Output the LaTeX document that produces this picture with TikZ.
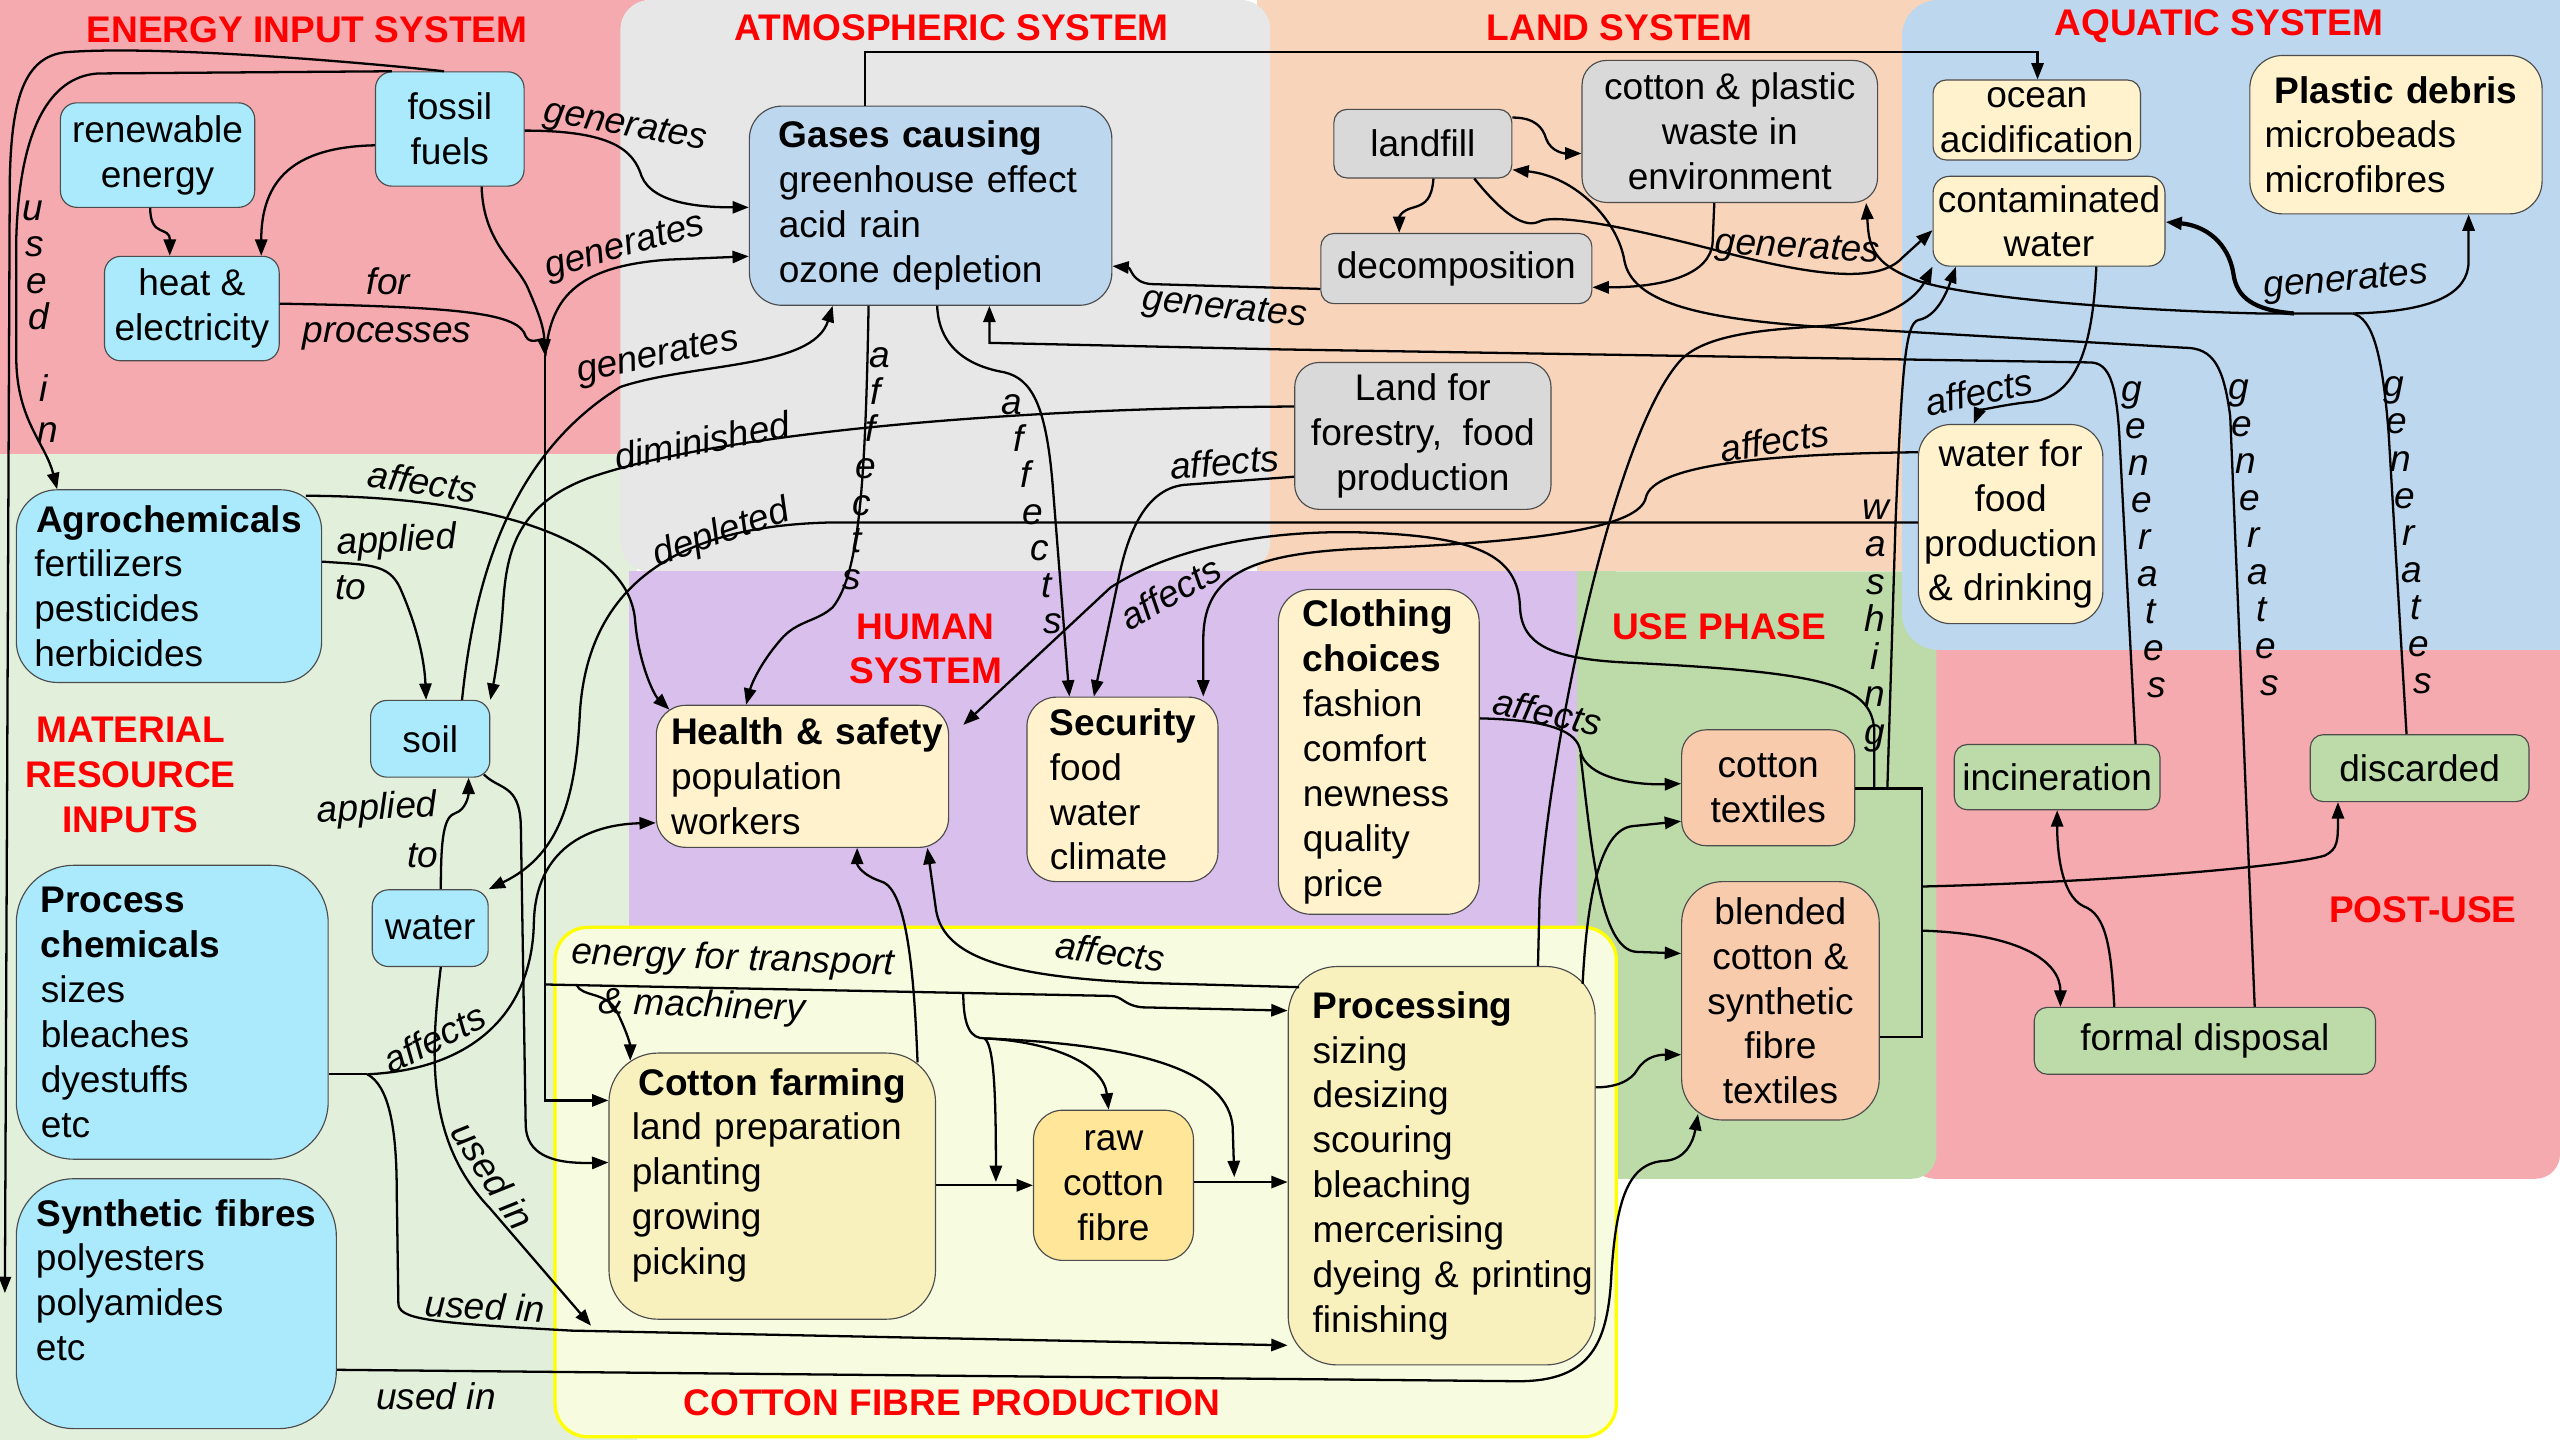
\documentclass[tikz,border=0pt]{standalone}
\usepackage{fontspec}
\setmainfont{Liberation Sans}
\usetikzlibrary{arrows.meta,calc}

% region backgrounds
\definecolor{regEnergy}{RGB}{244,170,174}
\definecolor{regAtmo}{RGB}{231,231,231}
\definecolor{regLand}{RGB}{248,212,186}
\definecolor{regAqua}{RGB}{189,215,238}
\definecolor{regMat}{RGB}{226,239,218}
\definecolor{regHuman}{RGB}{217,192,236}
\definecolor{regUse}{RGB}{189,219,168}
\definecolor{regCotton}{RGB}{247,252,224}
\definecolor{cottonEdge}{RGB}{255,255,0}
% box fills
\definecolor{cyanB}{RGB}{170,234,252}
\definecolor{grayB}{RGB}{217,217,217}
\definecolor{creamB}{RGB}{255,242,204}
\definecolor{khakiB}{RGB}{248,241,190}
\definecolor{rawB}{RGB}{255,230,153}
\definecolor{peachB}{RGB}{248,203,173}
\definecolor{greenB}{RGB}{189,219,168}
\definecolor{titleRed}{RGB}{255,0,0}

% stacked upright letters along a line
\newcommand\vletters[7]{%
  \foreach \ch [count=\k from 0] in {#7}{%
    \pgfmathsetmacro\lx{#2+(#4-#2)*\k/#6}%
    \pgfmathsetmacro\ly{#3+(#5-#3)*\k/#6+7}%
    \node[lbl,anchor=base] (#1\k) at (\lx,\ly) {\ch};
  }}

\begin{document}
\begin{tikzpicture}[x=1pt,y=-1pt,
  every node/.style={font=\fontsize{22.7}{27.5}\selectfont},
  box/.style={draw=black!70, line width=0.7pt, inner sep=0pt, rounded corners=#1},
  box/.default=10,
  cbox/.style={box=#1, align=center},
  cbox/.default=10,
  title/.style={text=titleRed, font=\fontsize{22.7}{27.5}\selectfont\bfseries, align=center, inner sep=0pt},
  lbl/.style={font=\fontsize{22.7}{27.5}\selectfont\itshape, inner sep=0pt},
  conn/.style={draw=black, line width=1.4pt},
  heavy/.style={draw=black, line width=2.6pt},
  >={Triangle[length=10pt,width=7.5pt]}]

\useasboundingbox (0,0) rectangle (1568,882);

% ---------- system regions ----------
\fill[regEnergy] (0,0) rectangle (395,290);
\fill[regMat] (0,278) rectangle (390,882);
\fill[regLand] (770,0) rectangle (1190,350);
\fill[regEnergy, rounded corners=15] (1170,380) rectangle (1568,722);
\fill[regUse, rounded corners=15] (966,350) rectangle (1186,722);
\fill[regUse] (966,350) rectangle (990,372);
\fill[regAtmo, rounded corners=18] (380,0) rectangle (778,350);
\fill[regAqua, rounded corners=22] (1165,0) rectangle (1600,398);
\fill[regHuman] (385,350) rectangle (966,569);
\filldraw[fill=regCotton, draw=cottonEdge, line width=2pt, rounded corners=20] (340,568) rectangle (990,880);

% ---------- titles ----------
\node[title] (tEnergy) at (188,18) {ENERGY INPUT SYSTEM};
\node[title] (tAtmo) at (583,17) {ATMOSPHERIC SYSTEM};
\node[title] (tLand) at (992,17) {LAND SYSTEM};
\node[title] (tAqua) at (1359,16) {AQUATIC SYSTEM};
\node[title] (tHuman) at (567,397.5) {HUMAN\\SYSTEM};
\node[title] (tMat) at (80,474.5) {MATERIAL\\RESOURCE\\INPUTS};
\node[title] (tUse) at (1053,384) {USE PHASE};
\node[title] (tPost) at (1484,557) {POST-USE};
\node[title] (tCotton) at (583,859) {COTTON FIBRE PRODUCTION};

% ---------- boxes ----------
% energy input
\node[cbox, fill=cyanB, minimum width=91pt, minimum height=70pt] (fossil) at (275.5,79) {fossil\\fuels};
\node[cbox, fill=cyanB, minimum width=119pt, minimum height=64pt] (renew) at (96.5,95) {renewable\\energy};
\node[cbox, fill=cyanB, minimum width=107pt, minimum height=64pt] (heat) at (117.5,189) {heat \&\\electricity};
% atmosphere
\node[box=20, fill=regAqua, inner xsep=18pt, text width=186pt, minimum height=122pt, align=left] (gases) at (570,126)
  {\textbf{Gases causing}\\greenhouse effect\\acid rain\\ozone depletion};
% land
\node[cbox=8, fill=grayB, minimum width=109pt, minimum height=42pt] (landfill) at (871.5,88) {landfill};
\node[cbox=15, fill=grayB, minimum width=181pt, minimum height=87pt] (waste) at (1059.5,80.5) {cotton \& plastic\\waste in\\environment};
\node[cbox=8, fill=grayB, minimum width=166pt, minimum height=43pt] (decomp) at (892,164.5) {decomposition};
\node[cbox=15, fill=grayB, minimum width=157pt, minimum height=90pt] (landfor) at (871.5,267) {Land for\\forestry,~ food\\production};
% aquatic
\node[cbox=8, fill=creamB, minimum width=127pt, minimum height=49pt] (ocean) at (1247.5,73.5) {ocean\\acidification};
\node[cbox=10, fill=creamB, minimum width=142pt, minimum height=55pt] (contam) at (1255,135.5) {contaminated\\water};
\node[box=20, fill=creamB, inner xsep=9pt, text width=161pt, minimum height=97pt, align=left] (plastic) at (1467.5,82.5)
  {\makebox[161pt]{\textbf{Plastic debris}}\\microbeads\\microfibres};
\node[cbox=20, fill=creamB, minimum width=113pt, minimum height=122pt] (waterfood) at (1231.5,321) {water for\\food\\production\\\& drinking};
% human
\node[box=18, fill=creamB, inner xsep=9pt, text width=161pt, minimum height=87pt, align=left] (health) at (491.5,475.5)
  {\mbox{\textbf{Health \& safety}}\\population\\workers};
\node[box=18, fill=creamB, inner xsep=14pt, text width=89pt, minimum height=113pt, align=left] (security) at (687.5,483.5)
  {\mbox{\textbf{Security}}\\food\\water\\climate};
\node[box=20, fill=creamB, inner xsep=15pt, text width=93pt, minimum height=199pt, align=left] (clothing) at (844.5,460.5)
  {\textbf{Clothing}\\\textbf{choices}\\fashion\\comfort\\newness\\quality\\price};
% material resources
\node[box=25, fill=cyanB, inner xsep=11pt, text width=165pt, minimum height=118pt, align=left] (agro) at (103.5,359)
  {\makebox[165pt]{\textbf{Agrochemicals}}\\fertilizers\\pesticides\\herbicides};
\node[cbox=10, fill=cyanB, minimum width=73pt, minimum height=47pt] (soil) at (263.5,452.5) {soil};
\node[cbox=10, fill=cyanB, minimum width=71pt, minimum height=47pt] (water) at (263.5,568.5) {water};
\node[box=35, fill=cyanB, inner xsep=15pt, text width=161pt, minimum height=180pt, align=left] (procchem) at (105.5,620)
  {\textbf{Process}\\\textbf{chemicals}\\sizes\\bleaches\\dyestuffs\\etc};
\node[box=35, fill=cyanB, inner xsep=12pt, text width=172pt, minimum height=153pt, align=left] (synth) at (108,798.5)
  {\makebox[172pt]{\textbf{Synthetic fibres}}\\polyesters\\polyamides\\etc\rule[-29pt]{0pt}{0pt}};
% use phase
\node[cbox=15, fill=peachB, minimum width=106pt, minimum height=71pt] (ctext) at (1083,482.5) {cotton\\textiles};
\node[cbox=25, fill=peachB, minimum width=121pt, minimum height=146pt] (blended) at (1090.5,613) {blended\\cotton \&\\synthetic\\fibre\\textiles};
% post-use
\node[cbox=8, fill=greenB, minimum width=126pt, minimum height=40pt] (incin) at (1260,476) {incineration};
\node[cbox=8, fill=greenB, minimum width=134pt, minimum height=41pt] (discarded) at (1482,470.5) {discarded};
\node[cbox=8, fill=greenB, minimum width=209pt, minimum height=41pt] (formal) at (1350.5,637.5) {formal disposal};
% cotton fibre production
\node[box=30, fill=khakiB, inner xsep=14pt, text width=172pt, minimum height=163pt, align=left] (farming) at (473,726.5)
  {\makebox[172pt]{\textbf{Cotton farming}}\\land preparation\\planting\\growing\\picking\rule[-18pt]{0pt}{0pt}};
\node[cbox=18, fill=rawB, minimum width=98pt, minimum height=92pt] (raw) at (682,726) {raw\\cotton\\fibre};
\node[box=30, fill=khakiB, inner xsep=15pt, text width=158pt, minimum height=244pt, align=left] (processing) at (883,714)
  {\textbf{Processing}\\sizing\\desizing\\scouring\\bleaching\\mercerising\\\mbox{dyeing \& printing}\\finishing};

% ---------- junction points ----------
\coordinate (merge) at (334,218);
\coordinate (eline) at (334,603);
\coordinate (ebr1) at (353,603);
\coordinate (ebr2) at (590,608);
\coordinate (efan) at (603,636);
\coordinate (rawin) at (610,724);
\coordinate (procin) at (756,721);
\coordinate (pcj) at (225,658);
\coordinate (usedtip) at (362,812);
\coordinate (outertip) at (3,792);
\coordinate (hsTip) at (590,444);
\coordinate (jd) at (1441,192);
\coordinate (jc) at (1405,192);
\coordinate (brA) at (1148,483);
\coordinate (brW) at (1156,483);
\coordinate (brTop) at (1177,483);
\coordinate (brBot) at (1177,635);
\coordinate (brD) at (1177,543);
\coordinate (brF) at (1177,570);
\coordinate (cb) at (968,462);

% ---------- energy connectors ----------
\draw[conn,->] (fossil.east |- 0,80) .. controls (375,80) and (388,92) .. (393,108) .. controls (400,125) and (430,127) .. (gases.west |- 0,127);
\draw[conn,->] (fossil.west |- 0,89) .. controls (180,90) and (160,110) .. (heat.north -| 160,0);
\draw[conn,->] (renew.south -| 92,0) .. controls (92,146) and (104,138) .. (heat.north -| 104,0);
\draw[conn,->] (heat.east |- 0,186) .. controls (285,188) and (318,192) .. (322,206) .. controls (325,212) and (333,206) .. (merge);
\draw[conn,->] (fossil.south -| 295,0) .. controls (296,150) and (318,162) .. (324,178) .. controls (330,192) and (333,200) .. (merge);
\draw[conn,->] (merge) .. controls (337,185) and (350,163) .. (410,159) -- (gases.west |- 0,157);
\draw[conn,->] (merge) -- (eline) -- (334,674) -- (farming.west |- 0,674);
\draw[conn,->] (eline) -- (680,610) .. controls (688,610) and (688,616) .. (700,617) -- (processing.west |- 0,619);
\draw[conn,->] (ebr1) .. controls (356,611) and (372,607) .. (378,620) .. controls (384,632) and (386,640) .. ($(farming.north -| 386,0)+(0,5)$);
\draw[conn] (ebr2) .. controls (590,630) and (595,636) .. (efan);
\draw[conn,->] (efan) .. controls (608,640) and (610,660) .. (rawin);
\draw[conn,->] (efan) .. controls (645,638) and (676,652) .. (raw.north -| 679,0);
\draw[conn,->] (efan) .. controls (705,640) and (752,658) .. (755,690) -- (procin);
\draw[conn,->] (farming.east |- 0,726) -- (raw.west |- 0,726);
\draw[conn,->] (raw.east |- 0,724) -- (processing.west |- 0,724);
% fuels used in material inputs
\draw[conn,->] (fossil.north -| 272,0) .. controls (200,36) and (90,28) .. (40,32) .. controls (15,35) and (7,60) .. (6,110) -- (outertip);
\draw[conn,->] (fossil.north -| 240,0) -- (60,45) .. controls (30,47) and (12,80) .. (10,145) -- (10,222) .. controls (11,258) and (28,272) .. (agro.north -| 35,0);

% ---------- atmosphere / land / aquatic connectors ----------
\draw[conn,->] (gases.north -| 530,0) -- (530,32) -- (1248,32) -- (ocean.north -| 1248,0);
\draw[conn,->] (decomp.west |- 0,177) -- (705,174) .. controls (693,173) and (693,164) .. (gases.east |- 0,163);
\draw[conn,->] (incin.north -| 1308,0) -- (1298,265) .. controls (1296,235) and (1292,222) .. (1280,222) -- (784,214) -- (606,210) -- (gases.south -| 606,0);
\draw[conn,->] (landfill.east |- 0,72) .. controls (940,72) and (945,78) .. (947,85) .. controls (950,93) and (958,94) .. (waste.west |- 0,94);
\draw[conn,->] (landfill.south -| 878,0) .. controls (877,122) and (873,125) .. (866,127) .. controls (858,129) and (857,133) .. (decomp.north -| 857,0);
\draw[conn,->] (waste.south -| 1050,0) -- (1049,148) .. controls (1048,168) and (1020,176) .. (decomp.east |- 0,176);
\draw[conn,->] (landfill.south -| 903,0) .. controls (918,128) and (932,140) .. (942,136) .. controls (952,130) and (1000,140) .. (1050,153) .. controls (1110,169) and (1150,174) .. (1165,158) -- (contam.west |- 0,141);
\draw[conn,->] (formal.north -| 1381,0) -- (1366,255) .. controls (1362,225) and (1356,213) .. (1338,213) -- (1112,200) .. controls (1040,195) and (1000,185) .. (995,160) .. controls (991,135) and (965,108) .. (landfill.east |- 0,104);
\draw[conn] (discarded.north -| 1474,0) -- (1463,265) .. controls (1459,215) and (1453,195) .. (jd);
\draw[conn,->] (jd) -- (1384,192) .. controls (1300,190) and (1200,182) .. (1172,171) .. controls (1152,163) and (1145,155) .. (1144,138) -- (waste.south -| 1143,0);
\draw[conn,->] (jd) .. controls (1490,191) and (1512,180) .. (1512,160) -- (plastic.south -| 1512,0);
\draw[heavy,->] (jc) .. controls (1380,190) and (1370,182) .. (1368,168) .. controls (1365,148) and (1350,138) .. (contam.east |- 0,136);
\draw[conn,->] (contam.south -| 1284,0) .. controls (1282,205) and (1275,242) .. (1245,246) .. controls (1225,248) and (1212,252) .. (waterfood.north -| 1209,0);
\draw[conn,->] (waterfood.west |- 0,320) -- (510,320) .. controls (400,322) and (358,370) .. (355,440) .. controls (352,495) and (340,525) .. (water.north east);
\draw[conn,->] (landfor.west |- 0,249) .. controls (600,250) and (430,268) .. (360,293) .. controls (315,310) and (310,340) .. (308,372) .. controls (306,400) and (302,420) .. (soil.north east);
\draw[conn,->] (landfor.west |- 0,292) -- (725,297) .. controls (700,300) and (690,330) .. (685,355) -- (security.north -| 670,0);
\draw[conn,->] (waterfood.west |- 0,277) .. controls (1080,278) and (1012,285) .. (1008,305) .. controls (1004,322) and (950,332) .. (835,336) .. controls (760,339) and (737,355) .. (737,392) -- (security.north -| 737,0);

% ---------- human system connectors ----------
\draw[conn,->] (gases.south -| 532,0) .. controls (530,300) and (526,352) .. (510,372) .. controls (500,381) and (488,380) .. (478,392) .. controls (465,407) and (460,420) .. (health.north -| 457,0);
\draw[conn,->] (gases.south -| 574,0) .. controls (575,212) and (592,224) .. (615,228) .. controls (632,232) and (641,248) .. (645,300) -- (security.north -| 655,0);
\draw[conn,->] (brA) -- (1148,447) .. controls (1146,420) and (1120,412) .. (1000,406) .. controls (952,404) and (932,396) .. (931,372) .. controls (930,340) and (905,328) .. (830,326) .. controls (770,325) and (715,337) .. (680,360) -- (hsTip);
\draw[conn,->] ($(farming.north -| 562,0)+(0,6)$) .. controls (560,600) and (556,545) .. (540,540) .. controls (528,536) and (525,530) .. (health.south -| 525,0);
\draw[conn,->] ($(processing.north west)+(7,13)$) -- (700,602) .. controls (612,598) and (576,585) .. (573,555) -- (health.south -| 568,0);

% ---------- material connectors ----------
\draw[conn,->] (agro.east |- 0,344) .. controls (225,346) and (238,345) .. (245,360) .. controls (256,385) and (260,405) .. (soil.north -| 261,0);
\draw[conn,->] ($(agro.north east)+(-10,4)$) .. controls (300,304) and (385,330) .. (389,380) .. controls (391,405) and (400,425) .. ($(health.north -| 410,0)+(0,3)$);
\draw[conn,->] (water.north -| 270,0) .. controls (270,512) and (272,500) .. (279,498) .. controls (285,496) and (287,488) .. (soil.south -| 287,0);
\draw[conn,->] (water.south -| 270,0) .. controls (263,650) and (262,700) .. (300,740) -- (usedtip);
\draw[conn,->] ($(soil.south east)+(-4,-2)$) .. controls (306,484) and (318,480) .. (319,505) -- (322,690) .. controls (323,706) and (336,713) .. (farming.west |- 0,712);
\draw[conn,->] (soil.north -| 283,0) .. controls (290,360) and (310,280) .. (380,237) .. controls (425,222) and (498,226) .. (gases.south -| 510,0);
\draw[conn] (procchem.east |- 0,658) -- (pcj);
\draw[conn,->] (pcj) .. controls (290,655) and (326,620) .. (327,565) .. controls (328,520) and (360,505) .. (health.west |- 0,504);
\draw[conn,->] (pcj) .. controls (238,665) and (243,690) .. (243,730) -- (244,798) .. controls (244,808) and (260,810) .. (350,815) -- (processing.west |- 0,824);
\draw[conn,->] (synth.east |- 0,839) -- (930,846) .. controls (975,846) and (985,822) .. (987,780) .. controls (990,735) and (997,712) .. (1020,711) .. controls (1032,710) and (1037,700) .. ($(blended.south -| 1040,0)+(0,-4)$);

% ---------- production / use / post-use connectors ----------
\draw[conn,->] (processing.north -| 942,0) -- (943,550) .. controls (950,450) and (990,262) .. (1030,220) .. controls (1045,205) and (1080,202) .. (1112,200) .. controls (1150,198) and (1172,186) .. (contam.south west);
\draw[conn,->] ($(processing.north east)+(-8,11)$) .. controls (972,550) and (980,508) .. (1000,506) -- (ctext.west |- 0,503);
\draw[conn,->] (processing.east |- 0,666) .. controls (990,666) and (999,662) .. (1003,655) .. controls (1008,647) and (1016,646) .. (blended.west |- 0,646);
\draw[conn,->] (clothing.east |- 0,440) .. controls (950,441) and (966,448) .. (968,460) .. controls (971,476) and (1000,481) .. (ctext.west |- 0,480);
\draw[conn,->] (cb) .. controls (975,520) and (980,581) .. (1002,583) -- (blended.west |- 0,584);
\draw[conn] (ctext.east |- 0,483) -- (brTop) -- (brBot) -- (blended.east |- 0,635);
\draw[conn,->] (brW) -- (1161,320) .. controls (1165,225) and (1167,198) .. (1175,196) .. controls (1186,194) and (1192,180) .. (contam.south -| 1198,0);
\draw[conn,->] (brD) .. controls (1300,540) and (1405,530) .. (1424,524) .. controls (1432,520) and (1432,515) .. (discarded.south -| 1432,0);
\draw[conn,->] (brF) .. controls (1240,572) and (1262,590) .. (formal.north -| 1262,0);
\draw[conn,->] (formal.north -| 1295,0) .. controls (1293,580) and (1290,560) .. (1276,555) .. controls (1262,548) and (1260,520) .. (incin.south -| 1260,0);

% ---------- connector labels ----------
\node[lbl, rotate=-10] (g1) at (383,78) {generates};
\node[lbl, rotate=16] (g2) at (383,152) {generates};
\node[lbl, rotate=12] (g3) at (403,219) {generates};
\node[lbl] (for1) at (238,172) {for};
\node[lbl] (proc1) at (237,206) {processes};
\node[lbl, rotate=11] (dim) at (430,270) {diminished};
\node[lbl, rotate=19] (dep) at (442,327) {depleted};
\node[lbl, rotate=-9] (af1) at (259,295) {affects};
\node[lbl, rotate=3] (ap1) at (243,332) {applied};
\node[lbl] (to1) at (215,360) {to};
\node[lbl, rotate=3] (ap2) at (231,496) {applied};
\node[lbl] (to2) at (259,524) {to};
\node[lbl, rotate=27] (af2) at (266,636) {affects};
\node[lbl, rotate=-57] (ui1) at (302,720) {used in};
\node[lbl, rotate=-3] (ui2) at (297,800) {used in};
\node[lbl] (ui3) at (267,855) {used in};
\node[lbl, rotate=-8] (af3) at (680,583) {affects};
\node[lbl, rotate=-2] (en1) at (449,588) {energy for transport};
\node[lbl, rotate=-2] (en2) at (430,617) {\& machinery};
\node[lbl, rotate=5] (af4) at (750,283) {affects};
\node[lbl, rotate=9] (af5) at (1087,270) {affects};
\node[lbl, rotate=30] (af6) at (717,363) {affects};
\node[lbl, rotate=-12] (af7) at (948,436) {affects};
\node[lbl, rotate=-6] (g4) at (750,190) {generates};
\node[lbl, rotate=-3] (g5) at (1101,153) {generates};
\node[lbl, rotate=5] (g6) at (1437,173) {generates};
\node[lbl, rotate=12] (af8) at (1212,240) {affects};

% stacked labels
\vletters{ua}{20}{128}{24}{195}{3}{u,s,e,d}
\vletters{ub}{27}{239}{29}{264}{1}{i,n}
\vletters{fa}{539}{218}{522}{354}{6}{a,f,f,e,c,t,s}
\vletters{fb}{620}{247}{645}{381}{6}{a,f,f,e,c,t,s}
\vletters{ga}{1306}{239}{1321}{420}{8}{g,e,n,e,r,a,t,e,s}
\vletters{gb}{1371}{238}{1390}{419}{8}{g,e,n,e,r,a,t,e,s}
\vletters{gc}{1466}{236}{1484}{418}{8}{g,e,n,e,r,a,t,e,s}
\vletters{wa}{1149}{311}{1148}{449}{6}{w,a,s,h,i,n,g}

\end{tikzpicture}
\end{document}
